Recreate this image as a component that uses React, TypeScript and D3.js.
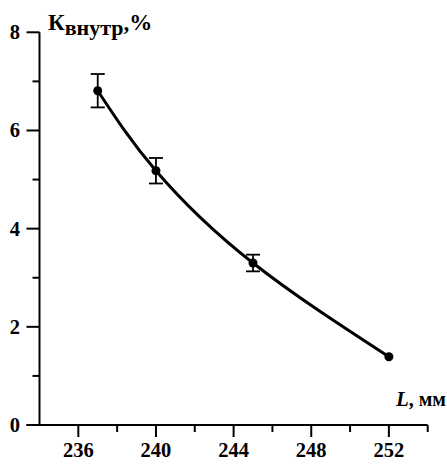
import React from "react";
import * as d3 from "d3";

// measured points (L, mm -> K внутр, %)
const lengths = [237, 240, 245, 252];
const kValues = [6.81, 5.18, 3.3, 1.39];
const kErrors = [0.34, 0.26, 0.17, 0];

const xMajorTicks = [236, 240, 244, 248, 252];
const xMinorTicks = [238, 242, 246, 250, 254];
const yMajorTicks = [0, 2, 4, 6, 8];
const yMinorTicks = [1, 3, 5, 7];

const width = 447;
const height = 466;
const font = "'Liberation Serif', 'Times New Roman', serif";

const App = () => {
  const x = d3.scaleLinear().domain([234, 254]).range([39.5, 427.7]);
  const y = d3.scaleLinear().domain([0, 8]).range([425, 32.3]);

  const points = lengths.map((l, i) => ({ l, k: kValues[i], e: kErrors[i] }));

  const line = d3
    .line<{ l: number; k: number }>()
    .x((d) => x(d.l))
    .y((d) => y(d.k))
    .curve(d3.curveNatural);

  return (
    <svg
      width={width}
      height={height}
      style={{ position: "absolute", left: 0, top: 0, background: "#fff" }}
      fontFamily={font}
      fontWeight="bold"
    >
      {/* axes */}
      <line x1={x(234) - 13} x2={x(254)} y1={y(0)} y2={y(0)} stroke="#000" strokeWidth={2} />
      <line x1={x(234)} x2={x(234)} y1={y(0)} y2={y(8)} stroke="#000" strokeWidth={2} />

      {xMajorTicks.map((t) => (
        <g key={"xM" + t}>
          <line x1={x(t)} x2={x(t)} y1={y(0)} y2={y(0) + 12} stroke="#000" strokeWidth={2} />
          <text x={x(t)} y={457} textAnchor="middle" fontSize={20.5}>
            {t}
          </text>
        </g>
      ))}
      {xMinorTicks.map((t) => (
        <line key={"xm" + t} x1={x(t)} x2={x(t)} y1={y(0)} y2={y(0) + 7} stroke="#000" strokeWidth={2} />
      ))}

      {yMajorTicks.map((t) => (
        <g key={"yM" + t}>
          <line x1={x(234) - 13} x2={x(234)} y1={y(t)} y2={y(t)} stroke="#000" strokeWidth={2} />
          <text x={20} y={y(t) + 7} textAnchor="end" fontSize={20.5}>
            {t}
          </text>
        </g>
      ))}
      {yMinorTicks.map((t) => (
        <line key={"ym" + t} x1={x(234) - 7} x2={x(234)} y1={y(t)} y2={y(t)} stroke="#000" strokeWidth={2} />
      ))}

      {/* axis titles */}
      <text x={48} y={29.5} fontSize={23}>
        К
        <tspan fontSize={22} dy={5}>
          внутр
        </tspan>
        <tspan fontSize={23} dy={-5}>
          ,%
        </tspan>
      </text>
      <text x={446} y={406} textAnchor="end" fontSize={20}>
        <tspan fontStyle="italic" fontSize={21}>L</tspan>, мм
      </text>

      {/* fitted curve */}
      <path d={line(points) || ""} fill="none" stroke="#000" strokeWidth={3} />

      {/* error bars */}
      {points
        .filter((p) => p.e > 0)
        .map((p) => (
          <g key={"e" + p.l} stroke="#000" strokeWidth={1.8}>
            <line x1={x(p.l)} x2={x(p.l)} y1={y(p.k + p.e)} y2={y(p.k - p.e)} />
            <line x1={x(p.l) - 7} x2={x(p.l) + 7} y1={y(p.k + p.e)} y2={y(p.k + p.e)} />
            <line x1={x(p.l) - 7} x2={x(p.l) + 7} y1={y(p.k - p.e)} y2={y(p.k - p.e)} />
          </g>
        ))}

      {/* points */}
      {points.map((p) => (
        <circle key={"p" + p.l} cx={x(p.l)} cy={y(p.k)} r={4.5} fill="#000" />
      ))}
    </svg>
  );
};

export default App;
